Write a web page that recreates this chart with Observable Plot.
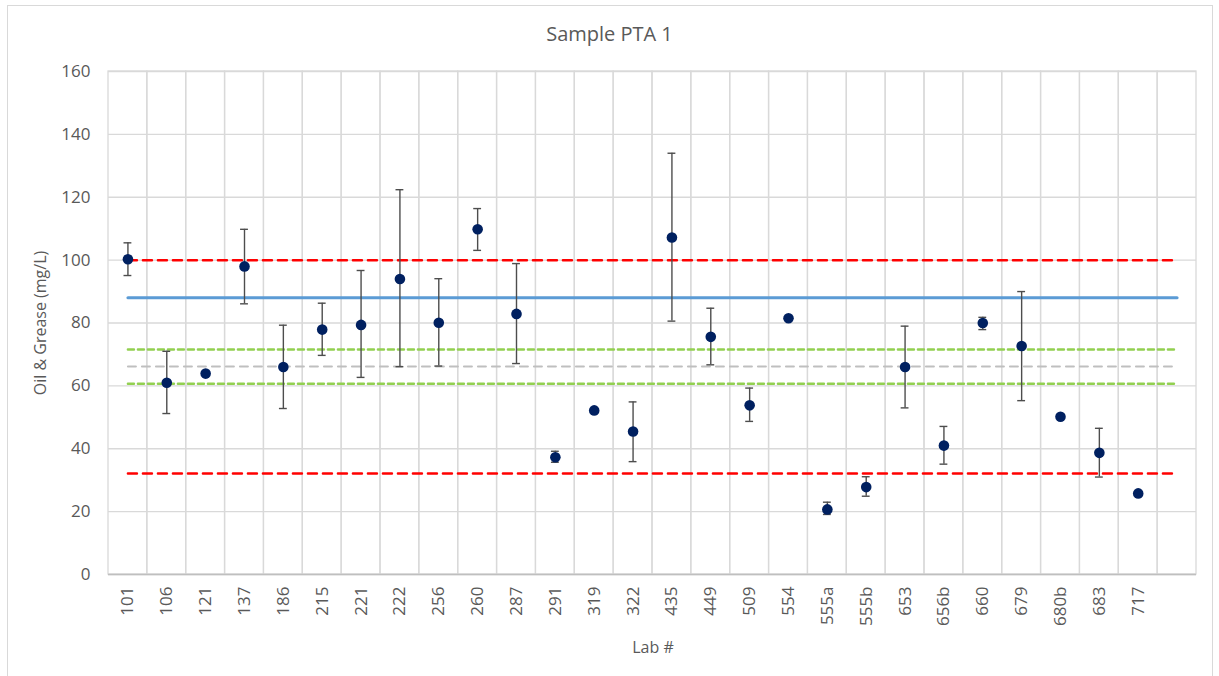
<!DOCTYPE html>
<html><head><meta charset="utf-8">
<script src="https://cdn.jsdelivr.net/npm/d3@7"></script>
<script src="https://cdn.jsdelivr.net/npm/@observablehq/plot@0.6"></script>
<style>
body{margin:0;background:#fff;font-family:"Open Sans",sans-serif;overflow:hidden;}
#frame{position:absolute;left:7px;top:5px;width:1206px;height:700px;border:1.5px solid #d9d9d9;box-sizing:border-box;}
#title{position:absolute;left:0;top:24px;width:1219px;text-align:center;font-size:20px;line-height:20px;color:#595959;}
#ylabel{position:absolute;left:40px;top:323px;transform:translate(-50%,-50%) rotate(-90deg);font-size:16px;color:#595959;white-space:nowrap;}
#xlabel{position:absolute;left:653px;top:639px;transform:translateX(-50%);font-size:16px;line-height:16px;color:#595959;white-space:nowrap;}
#chart{position:absolute;left:0;top:60px;}
</style></head>
<body>
<div id="frame"></div>
<div id="title">Sample PTA 1</div>
<div id="chart"></div>
<div id="ylabel">Oil &amp; Grease (mg/L)</div>
<div id="xlabel">Lab #</div>
<script>
const labs   = ["101","106","121","137","186","215","221","222","256","260","287","291","319","322","435","449","509","554","555a","555b","653","656b","660","679","680b","683","717"];
const values = [100.3, 61.0, 63.9, 98.0, 66.0, 77.9, 79.4, 94.0, 80.1, 109.8, 82.9, 37.3, 52.2, 45.5, 107.2, 75.6, 53.8, 81.5, 20.7, 27.8, 66.0, 41.0, 80.0, 72.7, 50.2, 38.7, 25.8];
const lower  = [95.1, 51.2, null, 86.1, 52.8, 69.7, 62.7, 66.1, 66.3, 103.1, 67.1, 35.7, null, 35.9, 80.6, 66.7, 48.7, null, 19.1, 24.9, 53.0, 35.1, 77.9, 55.3, null, 31.0, null];
const upper  = [105.5, 71.0, null, 109.8, 79.3, 86.3, 96.7, 122.4, 94.1, 116.4, 98.9, 39.2, null, 54.9, 134.0, 84.7, 59.3, null, 23.0, 31.1, 79.0, 47.1, 81.8, 90.0, null, 46.5, null];
const endCategory = "end";
const yTicks = [0, 20, 40, 60, 80, 100, 120, 140, 160];
const refValues = [100, 32.1, 88, 71.6, 60.7, 66.2];
const refNames  = ["upper limit", "lower limit", "assigned", "upper green", "lower green", "median"];

const categories = [...labs, endCategory];
const rows = labs.map((lab, i) => ({lab, value: values[i], lo: lower[i], hi: upper[i]}));
const errRows = rows.filter(d => d.lo != null);

const refStyles = {
  "upper limit": {stroke: "#ff0000", strokeWidth: 2.5, strokeDasharray: "9,6"},
  "lower limit": {stroke: "#ff0000", strokeWidth: 2.5, strokeDasharray: "9,6"},
  "assigned":    {stroke: "#5b9bd5", strokeWidth: 3, strokeDasharray: null},
  "upper green": {stroke: "#92d050", strokeWidth: 2.5, strokeDasharray: "6,4"},
  "lower green": {stroke: "#92d050", strokeWidth: 2.5, strokeDasharray: "6,4"},
  "median":      {stroke: "#bfbfbf", strokeWidth: 2, strokeDasharray: "8,6"}
};
const refMarks = refValues.map((v, i) => Plot.line(
  [{x: labs[0], y: v}, {x: endCategory, y: v}],
  {x: "x", y: "y", ...refStyles[refNames[i]]}
));

const chart = Plot.plot({
  width: 1219,
  height: 616,
  marginLeft: 108,
  marginRight: 23,
  marginTop: 11,
  marginBottom: 102,
  style: {fontFamily: "Open Sans, sans-serif", fontSize: "17px", color: "#595959", background: "transparent"},
  x: {type: "band", domain: categories, padding: 0, round: false, tickSize: 0, tickPadding: 12, tickRotate: -90, label: null, tickFormat: d => d === endCategory ? "" : d},
  y: {domain: [0, 160], ticks: yTicks, tickSize: 0, tickPadding: 18, label: null},
  marks: [
    Plot.cell(categories, {x: d => d, fill: "none", stroke: "#d9d9d9", strokeWidth: 1.3, inset: 0}),
    Plot.ruleY(yTicks, {stroke: "#d9d9d9", strokeWidth: 1.3}),
    Plot.ruleY([0], {stroke: "#bfbfbf", strokeWidth: 1.6}),
    ...refMarks,
    Plot.ruleX(errRows, {x: "lab", y1: "lo", y2: "hi", stroke: "#4d4d4d", strokeWidth: 1.4}),
    Plot.tickY(errRows, {x: "lab", y: "lo", stroke: "#4d4d4d", strokeWidth: 1.4, insetLeft: 15.5, insetRight: 15.5}),
    Plot.tickY(errRows, {x: "lab", y: "hi", stroke: "#4d4d4d", strokeWidth: 1.4, insetLeft: 15.5, insetRight: 15.5}),
    Plot.dot(rows, {x: "lab", y: "value", r: 5.3, fill: "#002060", stroke: "none"})
  ]
});
document.getElementById("chart").appendChild(chart);
</script>
</body></html>
